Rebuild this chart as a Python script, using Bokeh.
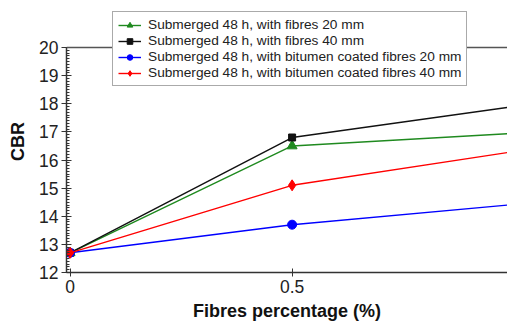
from bokeh.plotting import figure
from bokeh.models import Range1d, FixedTicker, Legend, LegendItem, Span
from bokeh.embed import file_html
from bokeh.resources import INLINE

# ---- data ----
fibres_pct = [0, 0.5, 1.0]
series_names = [
    "Submerged 48 h, with fibres 20 mm",
    "Submerged 48 h, with fibres 40 mm",
    "Submerged 48 h, with bitumen coated fibres 20 mm",
    "Submerged 48 h, with bitumen coated fibres 40 mm",
]
cbr_fibres_20 = [12.7, 16.5, 16.95]
cbr_fibres_40 = [12.7, 16.8, 17.9]
cbr_bitumen_20 = [12.7, 13.7, 14.42]
cbr_bitumen_40 = [12.7, 15.1, 16.3]
x_ticks = [0, 0.5, 1]
y_ticks = [12, 13, 14, 15, 16, 17, 18, 19, 20]
y_min, y_max = 12, 20

FONT = "Liberation Sans"
AXIS_COL = "#333333"

p = figure(width=507, height=324, output_backend="svg", toolbar_location=None,
           x_range=Range1d(-0.008, 0.985), y_range=Range1d(12, 21.316),
           min_border_left=66, min_border_right=0, min_border_top=10,
           min_border_bottom=52)
p.outline_line_color = None
p.xgrid.visible = False
p.ygrid.visible = False
p.background_fill_color = "white"
p.border_fill_color = "white"

# top frame line at the top of the y scale
p.add_layout(Span(location=y_max, dimension="width", line_color="#555555",
                  line_width=1.5))

styles = [
    (cbr_fibres_20, "#1f8a1f", "triangle", 10),
    (cbr_fibres_40, "#111111", "square", 7),
    (cbr_bitumen_20, "#0000ff", "circle", 9),
    (cbr_bitumen_40, "#ff0000", "diamond", 11),
]
items = []
for name, (vals, col, mk, sz) in zip(series_names, styles):
    ln = p.line(fibres_pct, vals, line_color=col, line_width=1.4)
    sc = p.scatter(fibres_pct, vals, marker=mk, size=sz, fill_color=col,
                   line_color=col)
    items.append(LegendItem(label=name, renderers=[ln, sc]))

# axes
xa = p.xaxis[0]
xa.ticker = FixedTicker(ticks=x_ticks)
xa.axis_label = "Fibres percentage (%)"
xa.axis_label_text_font = FONT
xa.axis_label_text_font_style = "bold"
xa.axis_label_text_font_size = "18px"
xa.axis_label_text_color = "#111111"
xa.axis_label_standoff = 5
xa.major_label_text_font = FONT
xa.major_label_text_font_size = "17.5px"
xa.major_label_text_color = "#222222"
xa.major_label_standoff = 3
xa.major_tick_in = 4
xa.major_tick_out = 4
xa.minor_tick_in = 0
xa.minor_tick_out = 0
xa.axis_line_width = 1.5
xa.axis_line_color = AXIS_COL
xa.major_tick_line_color = AXIS_COL

ya = p.yaxis[0]
ya.bounds = (y_min, y_max)
ya.ticker = FixedTicker(ticks=y_ticks,
                        minor_ticks=[12 + i * 0.1 for i in range(81)])
ya.axis_label = "CBR"
ya.axis_label_text_font = FONT
ya.axis_label_text_font_style = "bold"
ya.axis_label_text_font_size = "18px"
ya.axis_label_text_color = "#111111"
ya.axis_label_standoff = 8
ya.major_label_text_font = FONT
ya.major_label_text_font_size = "17.5px"
ya.major_label_text_color = "#222222"
ya.major_label_standoff = 3
ya.major_tick_in = 5
ya.major_tick_out = 5
ya.minor_tick_in = 3
ya.minor_tick_out = 0
ya.axis_line_width = 1.5
ya.axis_line_color = AXIS_COL
ya.major_tick_line_color = AXIS_COL
ya.minor_tick_line_color = AXIS_COL

legend = Legend(items=items, location=(46, 186))
legend.label_text_font = FONT
legend.label_text_font_size = "13.7px"
legend.label_text_color = "#222222"
legend.glyph_width = 23
legend.glyph_height = 14
legend.label_height = 14
legend.label_standoff = 7
legend.spacing = 1
legend.padding = 5
legend.border_line_color = "#555555"
legend.border_line_width = 1.5
legend.background_fill_alpha = 1.0
p.add_layout(legend, "center")

open("out.html", "w").write(file_html(p, INLINE))
